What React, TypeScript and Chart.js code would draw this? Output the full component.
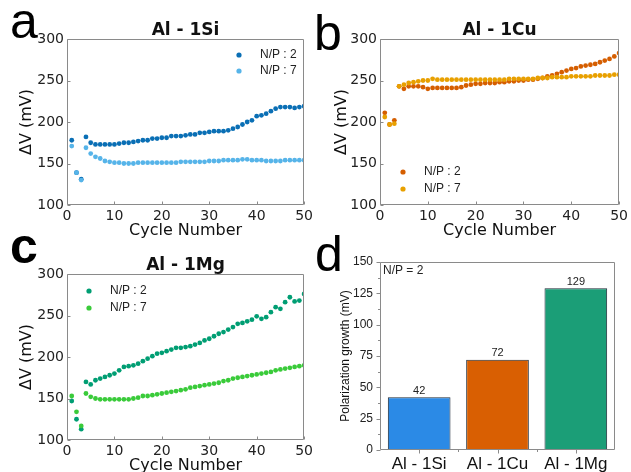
import React, { useEffect, useRef } from "react";
import { Chart, registerables } from "chart.js";
Chart.register(...registerables);

// ---------- data ----------
const xTicks = [0, 10, 20, 30, 40, 50];
const yTicks = [100, 150, 200, 250, 300];
const barTicks = [0, 25, 50, 75, 100, 125, 150];

const siNP2 = [178,139,131,182,175,173,173,173,173,173,174,175,175,176,177,178,178,180,180,181,181,183,183,183,184,185,185,187,187,188,189,189,189,190,192,194,197,200,202,207,208,210,213,216,218,218,218,217,218,219];
const siNP7 = [171,139,130,169,162,158,156,153,152,151,151,150,150,150,151,151,151,151,151,151,151,151,151,152,152,152,152,152,152,153,153,153,154,154,154,154,155,155,154,154,154,153,153,153,153,154,154,154,154,154];

const cuNP2 = [211,197,202,243,240,243,243,243,242,240,241,241,241,241,241,241,242,244,245,246,246,247,247,247,248,248,249,249,250,250,251,251,252,253,255,256,258,260,262,264,265,267,268,269,270,272,274,276,279,283];
const cuNP7 = [206,197,198,243,245,247,248,249,250,250,252,251,251,251,251,251,251,251,251,251,251,251,251,251,251,251,252,252,252,252,252,252,253,253,253,254,254,254,254,255,255,255,255,255,256,256,256,256,257,257];

const mgNP2 = [147,125,113,170,167,172,174,176,178,180,184,188,189,190,192,195,198,201,204,205,207,209,211,211,212,213,215,217,220,222,225,228,230,233,236,240,241,243,245,249,246,248,254,260,258,266,272,267,268,276];
const mgNP7 = [153,134,117,156,152,150,149,149,149,149,149,149,149,150,151,153,153,154,155,156,157,158,159,160,161,163,164,165,166,167,168,169,171,172,174,175,176,177,178,179,180,181,182,184,185,186,187,188,189,190];

const seriesLabels = ["N/P : 2", "N/P : 7"];
const barLabels = ["Al - 1Si", "Al - 1Cu", "Al - 1Mg"];
const barValues = [42, 72, 129];

const DEJAVU = "'DejaVu Sans', sans-serif";
const ARIAL = "'Liberation Sans', Arial, sans-serif";

// ---------- drawing helper plugin ----------
const panelPlugin = {
  id: "panel",
  afterDraw(chart: any, _args: any, opts: any) {
    const { ctx, chartArea: a } = chart;
    const L = Math.round(a.left) + 0.5;
    const R = Math.round(a.right) - 0.5;
    const T = Math.round(a.top) + 0.5;
    const B = Math.round(a.bottom) - 0.5;
    ctx.save();
    ctx.lineWidth = 1;
    ctx.strokeStyle = opts.frameColor || "#8a8a8a";
    ctx.beginPath();
    ctx.rect(L, T, R - L, B - T);
    ctx.stroke();

    const xs = chart.scales.x;
    const ys = chart.scales.y;
    ctx.beginPath();
    if (opts.kind === "scatter") {
      const len = 3;
      xs.ticks.forEach((t: any) => {
        const px = Math.round(xs.getPixelForValue(t.value)) + 0.5;
        ctx.moveTo(px, B);
        ctx.lineTo(px, B - len);
      });
      ys.ticks.forEach((t: any) => {
        const py = Math.round(ys.getPixelForValue(t.value)) + 0.5;
        ctx.moveTo(L, py);
        ctx.lineTo(L + len, py);
      });
    } else {
      ys.ticks.forEach((t: any, i: number) => {
        const py = Math.round(ys.getPixelForValue(t.value)) + 0.5;
        ctx.moveTo(L, py);
        ctx.lineTo(L - 4, py);
        if (i < ys.ticks.length - 1) {
          const mid = (t.value + ys.ticks[i + 1].value) / 2;
          const pm = Math.round(ys.getPixelForValue(mid)) + 0.5;
          ctx.moveTo(L, pm);
          ctx.lineTo(L - 2.5, pm);
        }
      });
      const n = chart.data.labels.length;
      for (let i = 0; i < n; i++) {
        const px = Math.round(xs.getPixelForValue(i)) + 0.5;
        ctx.moveTo(px, B);
        ctx.lineTo(px, B + 4);
        if (i < n - 1) {
          const pb = Math.round((xs.getPixelForValue(i) + xs.getPixelForValue(i + 1)) / 2) + 0.5;
          ctx.moveTo(pb, B);
          ctx.lineTo(pb, B + 2.5);
        }
      }
    }
    ctx.stroke();

    // title
    if (opts.title) {
      ctx.fillStyle = "#111";
      ctx.font = `bold 17px ${DEJAVU}`;
      ctx.textAlign = "center";
      ctx.textBaseline = "alphabetic";
      ctx.fillText(opts.title, (a.left + a.right) / 2, a.top - 4.5);
    }

    // legend inside plot
    if (opts.legend) {
      const lg = opts.legend;
      ctx.font = `12px ${ARIAL}`;
      ctx.textAlign = "left";
      ctx.textBaseline = "middle";
      chart.data.datasets.forEach((ds: any, i: number) => {
        const cx = a.left + lg.x;
        const cy = (lg.fromBottom ? a.bottom : a.top) + lg.y + i * lg.dy;
        ctx.fillStyle = ds.backgroundColor;
        ctx.beginPath();
        ctx.arc(cx, cy, 2.6, 0, Math.PI * 2);
        ctx.fill();
        ctx.fillStyle = "#222";
        ctx.fillText(ds.label, cx + 21, cy);
      });
    }

    // bar values + note
    if (opts.kind === "bar") {
      const meta = chart.getDatasetMeta(0);
      ctx.fillStyle = "#222";
      ctx.font = `11px ${ARIAL}`;
      ctx.textAlign = "center";
      ctx.textBaseline = "bottom";
      meta.data.forEach((el: any, i: number) => {
        ctx.fillText(String(chart.data.datasets[0].data[i]), el.x, el.y - 1);
      });
      if (opts.note) {
        ctx.textAlign = "left";
        ctx.textBaseline = "top";
        ctx.font = `12px ${ARIAL}`;
        ctx.fillText(opts.note, a.left + 3, a.top + 3);
      }
    }
    ctx.restore();
  },
};

type ScatterCfg = {
  title: string;
  s1: number[];
  s2: number[];
  c1: string;
  c2: string;
  yAxisWidth: number;
  yTitlePad: number;
  padTop: number;
  padRight: number;
  xAxisHeight: number;
  xTitlePad: number;
  legend: any;
};

function scatterConfig(c: ScatterCfg): any {
  const mk = (vals: number[]) => vals.map((v, i) => ({ x: i + 1, y: v }));
  return {
    type: "scatter",
    data: {
      datasets: [
        { label: seriesLabels[0], data: mk(c.s1), backgroundColor: c.c1, borderColor: c.c1, pointRadius: 2.4, borderWidth: 0, order: 1 },
        { label: seriesLabels[1], data: mk(c.s2), backgroundColor: c.c2, borderColor: c.c2, pointRadius: 2.4, borderWidth: 0, order: 0 },
      ],
    },
    options: {
      animation: false,
      responsive: false,
      devicePixelRatio: 1,
      layout: { padding: { left: 0, right: c.padRight, top: c.padTop, bottom: 0 } },
      plugins: {
        legend: { display: false },
        tooltip: { enabled: false },
        title: { display: false },
        panel: { kind: "scatter", title: c.title, legend: c.legend },
      },
      scales: {
        x: {
          type: "linear",
          min: 0,
          max: 50,
          afterBuildTicks: (s: any) => { s.ticks = xTicks.map((v) => ({ value: v })); },
          afterFit: (s: any) => { s.height = c.xAxisHeight; },
          grid: { display: false, drawTicks: false },
          border: { display: false },
          ticks: { padding: 3, color: "#222", font: { family: DEJAVU, size: 14 }, maxRotation: 0, autoSkip: false },
          title: { display: true, text: "Cycle Number", color: "#111", font: { family: DEJAVU, size: 16 }, padding: { top: 0, bottom: c.xTitlePad } },
        },
        y: {
          type: "linear",
          min: 100,
          max: 300,
          afterBuildTicks: (s: any) => { s.ticks = yTicks.map((v) => ({ value: v })); },
          afterFit: (s: any) => { s.width = c.yAxisWidth; },
          grid: { display: false, drawTicks: false },
          border: { display: false },
          ticks: { padding: 3, color: "#222", font: { family: DEJAVU, size: 14 }, autoSkip: false },
          title: { display: true, text: "ΔV (mV)", color: "#111", font: { family: DEJAVU, size: 16 }, padding: { top: c.yTitlePad, bottom: 0 } },
        },
      },
    },
    plugins: [panelPlugin],
  };
}

function barConfig(): any {
  return {
    type: "bar",
    data: {
      labels: barLabels,
      datasets: [
        {
          data: barValues,
          backgroundColor: ["#2b8ae6", "#d95f02", "#1b9e77"],
          borderColor: "#1f2b38",
          borderWidth: 1,
          borderSkipped: false,
          categoryPercentage: 1,
          barPercentage: 0.8,
        },
      ],
    },
    options: {
      animation: false,
      responsive: false,
      devicePixelRatio: 1,
      layout: { padding: { left: 0, right: 16, top: 26, bottom: 0 } },
      plugins: {
        legend: { display: false },
        tooltip: { enabled: false },
        title: { display: false },
        panel: { kind: "bar", note: "N/P = 2", frameColor: "#8a8a8a" },
      },
      scales: {
        x: {
          afterFit: (s: any) => { s.height = 22; },
          grid: { display: false, drawTicks: false },
          border: { display: false },
          ticks: { padding: 4, color: "#111", font: { family: ARIAL, size: 17 }, maxRotation: 0, autoSkip: false },
        },
        y: {
          min: 0,
          max: 150,
          afterBuildTicks: (s: any) => { s.ticks = barTicks.map((v) => ({ value: v })); },
          afterFit: (s: any) => { s.width = 64; },
          grid: { display: false, drawTicks: false },
          border: { display: false },
          ticks: { padding: 7, color: "#222", font: { family: ARIAL, size: 12 }, autoSkip: false },
          title: { display: true, text: "Polarization growth (mV)", color: "#111", font: { family: ARIAL, size: 12 }, padding: { top: 22, bottom: 0 } },
        },
      },
    },
    plugins: [panelPlugin],
  };
}

function ChartCanvas({ left, top, width, height, config }: { left: number; top: number; width: number; height: number; config: () => any }) {
  const ref = useRef<HTMLCanvasElement | null>(null);
  useEffect(() => {
    if (!ref.current) return;
    const chart = new Chart(ref.current, config());
    return () => chart.destroy();
  }, []);
  return (
    <canvas
      ref={ref}
      width={width}
      height={height}
      style={{ position: "absolute", left, top, width, height, display: "block" }}
    />
  );
}

const letterStyle = (left: number, top: number, bold = false, size = 50): React.CSSProperties => ({
  position: "absolute",
  left,
  top,
  fontFamily: ARIAL,
  fontSize: size,
  lineHeight: `${size}px`,
  fontWeight: bold ? "bold" : "normal",
  color: "#000",
  margin: 0,
});

export default function App() {
  return (
    <div style={{ position: "fixed", left: 0, top: 0, width: 631, height: 472, overflow: "hidden", background: "#fff" }}>
      <ChartCanvas
        left={0}
        top={0}
        width={316}
        height={245}
        config={() =>
          scatterConfig({
            title: "Al - 1Si",
            s1: siNP2,
            s2: siNP7,
            c1: "#0a6fb5",
            c2: "#56b4e9",
            yAxisWidth: 67,
            yTitlePad: 17,
            padTop: 39,
            padRight: 6,
            xAxisHeight: 40,
            xTitlePad: 5,
            legend: { x: 172, y: 16, dy: 16, fromBottom: false },
          })
        }
      />
      <ChartCanvas
        left={316}
        top={0}
        width={315}
        height={245}
        config={() =>
          scatterConfig({
            title: "Al - 1Cu",
            s1: cuNP2,
            s2: cuNP7,
            c1: "#d55e00",
            c2: "#e8a000",
            yAxisWidth: 64,
            yTitlePad: 16,
            padTop: 39,
            padRight: 8,
            xAxisHeight: 40,
            xTitlePad: 5,
            legend: { x: 23, y: -33, dy: 17, fromBottom: true },
          })
        }
      />
      <ChartCanvas
        left={0}
        top={236}
        width={316}
        height={246}
        config={() =>
          scatterConfig({
            title: "Al - 1Mg",
            s1: mgNP2,
            s2: mgNP7,
            c1: "#009e73",
            c2: "#3acb3a",
            yAxisWidth: 67,
            yTitlePad: 17,
            padTop: 38,
            padRight: 6,
            xAxisHeight: 42,
            xTitlePad: 7,
            legend: { x: 22, y: 17, dy: 17, fromBottom: false },
          })
        }
      />
      <ChartCanvas left={316} top={236} width={315} height={236} config={barConfig} />
      <span style={letterStyle(10, -4)}>a</span>
      <span style={letterStyle(314, 8)}>b</span>
      <span style={letterStyle(10, 221, true)}>c</span>
      <span style={letterStyle(315, 229)}>d</span>
    </div>
  );
}
